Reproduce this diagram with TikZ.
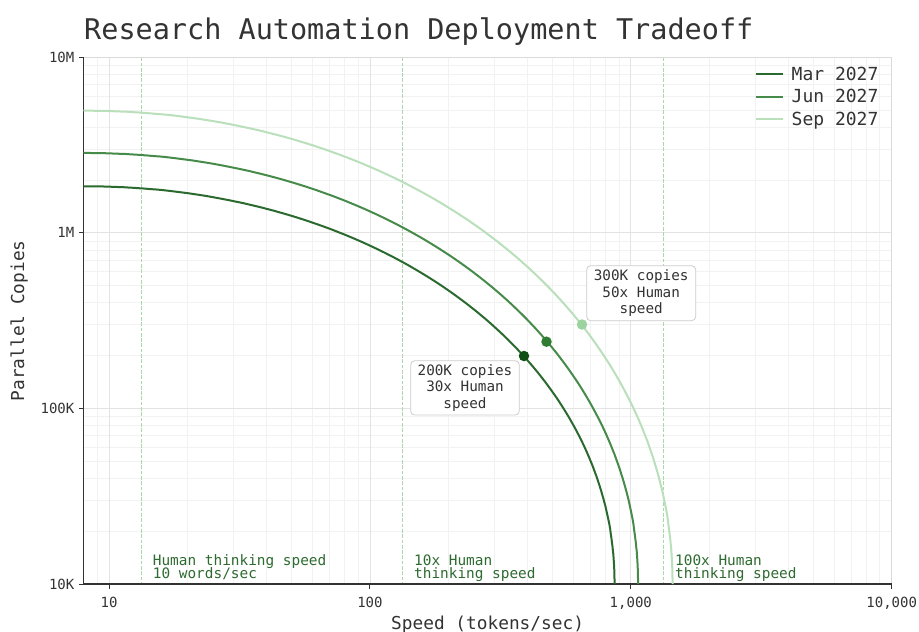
\documentclass[tikz,border=0pt]{standalone}
\usepackage{fontspec}
\setmainfont{DejaVu Sans Mono}
\setmonofont{DejaVu Sans Mono}
\definecolor{marline}{HTML}{2B6A2F}
\definecolor{junline}{HTML}{478B4A}
\definecolor{sepline}{HTML}{BADFBB}
\definecolor{mardot}{HTML}{0F4F14}
\definecolor{jundot}{HTML}{2E7D32}
\definecolor{sepdot}{HTML}{9CD39E}
\definecolor{txt}{HTML}{333333}
\definecolor{lbl}{HTML}{2E6B30}
\definecolor{dashgreen}{HTML}{A8DAA8}
\definecolor{majgrid}{HTML}{E3E3E3}
\definecolor{mingrid}{HTML}{F2F2F2}
\definecolor{boxedge}{HTML}{CCCCCC}
\definecolor{lightspine}{HTML}{DADADA}
\tikzset{
  minorgrid/.style={mingrid, line width=0.6pt},
  majorgrid/.style={majgrid, line width=0.8pt},
  darkspine/.style={txt, line width=1.2pt},
  softspine/.style={lightspine, line width=0.9pt},
  tickmark/.style={txt, line width=1pt},
  refline/.style={dashgreen, line width=1pt, dash pattern=on 3.7pt off 1.6pt},
  curve/.style={line width=2pt},
  dotmark/.style={circle, inner sep=0pt, minimum size=10.5pt},
  ticklab/.style={text=txt, inner sep=0pt, font=\fontsize{14}{16}\selectfont},
  greenlab/.style={text=lbl, inner sep=0pt, anchor=base west, font=\fontsize{14.4}{13}\selectfont},
  annobox/.style={draw=boxedge, line width=0.8pt, fill=white, text=txt, rounded corners=4pt, align=center, inner sep=0pt, font=\fontsize{14.3}{16.3}\selectfont},
  legline/.style={line width=2pt},
  legtext/.style={text=txt, inner sep=0pt, anchor=base west, font=\fontsize{18}{20}\selectfont}
}
\begin{document}
\begin{tikzpicture}[x=1pt,y=-1pt]
\useasboundingbox (0,0) rectangle (919,632);
\fill[white] (0,0) rectangle (919,632);

% minor grid
\draw[minorgrid] (97.0,57.2) -- (97.0,584);
\foreach \d in {0,1,2} {
  \foreach \m in {2,...,9} {
    \draw[minorgrid] ({109+260.9*(\d+log10(\m))},57.2) -- ({109+260.9*(\d+log10(\m))},584);
    \draw[minorgrid] (83.5,{584-175.6*(\d+log10(\m))}) -- (891.7,{584-175.6*(\d+log10(\m))});
  }
}
% major grid
\foreach \xx in {109,369.9,630.8} {
  \draw[majorgrid] (\xx,57.2) -- (\xx,584);
}
\foreach \yy in {408.4,232.8} {
  \draw[majorgrid] (83.5,\yy) -- (891.7,\yy);
}

% reference lines
\coordinate (h1t) at (141.5,57.2); \coordinate (h1b) at (141.5,584);
\coordinate (h2t) at (402.5,57.2); \coordinate (h2b) at (402.5,584);
\coordinate (h3t) at (663,57.2);   \coordinate (h3b) at (663,584);
\draw[refline] (h1t) -- (h1b);
\draw[refline] (h2t) -- (h2b);
\draw[refline] (h3t) -- (h3b);

% spines
\draw[softspine] (83.5,57.2) -- (891.7,57.2) -- (891.7,584);
\draw[darkspine] (83.5,57.2) -- (83.5,584) -- (891.7,584);

% ticks
\foreach \xx/\t in {109/10,369.9/100,630.8/{1,000},891.7/{10,000}} {
  \draw[tickmark] (\xx,584) -- (\xx,589);
  \node[ticklab, anchor=base] at (\xx,607.3) {\t};
}
\foreach \yy/\t in {584/10K,408.4/100K,232.8/1M,57.2/10M} {
  \draw[tickmark] (83.5,\yy) -- (78.5,\yy);
  \node[ticklab, anchor=base east] at (74.5,\yy+5) {\t};
}

% curves
\draw[curve, sepline] (672.5,584) -- plot[domain=0.05:89.95, samples=160] ({83.5+589*cos(\x)^0.9756},{584-473.3*sin(\x)^0.9756}) -- (83.5,110.7);
\draw[curve, junline] (638,584) -- plot[domain=0.05:89.95, samples=160] ({83.5+554.5*cos(\x)^0.9756},{584-431*sin(\x)^0.9756}) -- (83.5,153);
\draw[curve, marline] (614.5,584) -- plot[domain=0.05:89.95, samples=160] ({83.5+531*cos(\x)^0.9756},{584-397.7*sin(\x)^0.9756}) -- (83.5,186.3);

% dots
\node[dotmark, fill=mardot] (dmar) at (524,356) {};
\node[dotmark, fill=jundot] (djun) at (546.5,341.7) {};
\node[dotmark, fill=sepdot] (dsep) at (582,324.5) {};

% annotation boxes
\node[annobox, minimum width=108.6pt, minimum height=54.3pt] (b1) at (465,387.9) {200K copies\\30x Human\\speed};
\node[annobox, minimum width=109pt, minimum height=55pt] (b2) at (641.2,293.2) {300K copies\\50x Human\\speed};

% reference labels
\node[greenlab] (l1a) at (152.7,565.8) {Human thinking speed};
\node[greenlab] (l1b) at (152.7,578.8) {10 words/sec};
\node[greenlab] (l2a) at (414,565.8) {10x Human};
\node[greenlab] (l2b) at (414,578.8) {thinking speed};
\node[greenlab] (l3a) at (675,565.8) {100x Human};
\node[greenlab] (l3b) at (675,578.8) {thinking speed};

% legend
\draw[legline, marline] (755.7,74) -- (782.7,74);
\draw[legline, junline] (755.7,96.7) -- (782.7,96.7);
\draw[legline, sepline] (755.7,119.3) -- (782.7,119.3);
\node[legtext] (t1) at (791.5,80.2) {Mar 2027};
\node[legtext] (t2) at (791.5,102.9) {Jun 2027};
\node[legtext] (t3) at (791.5,125.5) {Sep 2027};

% title and axis labels
\node[text=txt, inner sep=0pt, anchor=base west, font=\fontsize{28.5}{32}\selectfont] (title) at (84,39.3) {Research Automation Deployment Tradeoff};
\node[text=txt, inner sep=0pt, anchor=base, font=\fontsize{17.8}{20}\selectfont] (xlab) at (487.6,629.3) {Speed (tokens/sec)};
\node[text=txt, inner sep=0pt, anchor=base, rotate=90, font=\fontsize{17.8}{20}\selectfont] (ylab) at (24,320.8) {Parallel Copies};
\end{tikzpicture}
\end{document}
